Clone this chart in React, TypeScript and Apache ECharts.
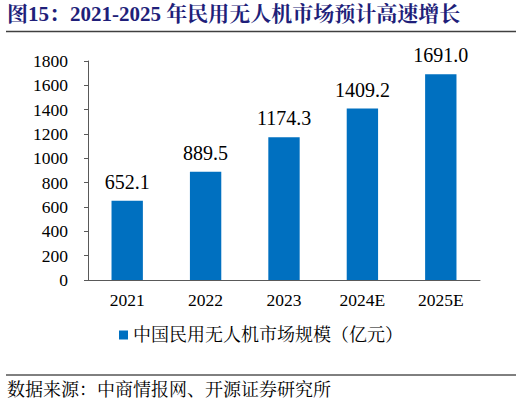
import React, { useEffect, useRef } from "react";
import * as echarts from "echarts";

const categories = ["2021", "2022", "2023", "2024E", "2025E"];
const values = [652.1, 889.5, 1174.3, 1409.2, 1691.0];
const seriesName = "中国民用无人机市场规模（亿元）";
const titleText = "图15：2021-2025 年民用无人机市场预计高速增长";
const sourceText = "数据来源：中商情报网、开源证券研究所";

const SERIF = '"Liberation Serif", "Times New Roman", "Noto Sans CJK SC", serif';
const CJK = '"Liberation Serif", "Noto Serif CJK SC", "Noto Sans CJK SC", serif';

export default function App() {
  const ref = useRef<HTMLDivElement>(null);
  useEffect(() => {
    if (!ref.current) return;
    const chart = echarts.init(ref.current, null, { renderer: "svg" });
    chart.setOption({
      animation: false,
      backgroundColor: "#ffffff",
      grid: { left: 88, right: 42, top: 61, bottom: 125 },
      xAxis: {
        type: "category",
        data: categories,
        axisLine: { lineStyle: { color: "#595959", width: 1 } },
        axisTick: { inside: true, length: 5, lineStyle: { color: "#595959" } },
        axisLabel: { color: "#000", fontSize: 17.5, fontFamily: SERIF, margin: 11 },
      },
      yAxis: {
        type: "value",
        min: 0,
        max: 1800,
        interval: 200,
        splitLine: { show: false },
        axisLine: { show: true, lineStyle: { color: "#595959", width: 1 } },
        axisTick: { show: true, length: 4, lineStyle: { color: "#595959" } },
        axisLabel: {
          color: "#000",
          fontSize: 17.5,
          fontFamily: SERIF,
          margin: 20,
          formatter: (v: number) => String(v),
        },
      },
      legend: {
        bottom: 56,
        left: "center",
        itemWidth: 9,
        itemHeight: 9,
        itemGap: 6,
        icon: "rect",
        textStyle: { fontSize: 18, fontFamily: CJK, color: "#000" },
        data: [seriesName],
      },
      series: [
        {
          name: seriesName,
          type: "bar",
          data: values,
          barWidth: "40%",
          itemStyle: { color: "#0070C0" },
          label: {
            show: true,
            position: "top",
            distance: 9,
            color: "#000",
            fontSize: 20,
            fontFamily: SERIF,
            formatter: (p: any) => Number(p.value).toFixed(1),
          },
        },
      ],
      graphic: [
        {
          type: "text",
          left: 7,
          top: 3,
          style: {
            text: titleText,
            font: `bold 21px ${CJK}`,
            fill: "#1F1F7A",
          },
        },
        {
          type: "line",
          shape: { x1: 6, y1: 31.5, x2: 516, y2: 31.5 },
          style: { stroke: "#404040", lineWidth: 1.3 },
        },
        {
          type: "line",
          shape: { x1: 6, y1: 375, x2: 516, y2: 375 },
          style: { stroke: "#000", lineWidth: 1 },
        },
        {
          type: "text",
          left: 7,
          top: 381,
          style: {
            text: sourceText,
            font: `18px ${CJK}`,
            fill: "#000",
          },
        },
      ],
    });
    return () => chart.dispose();
  }, []);
  return <div ref={ref} style={{ width: 522, height: 405, position: "absolute", left: 0, top: 0 }} />;
}
